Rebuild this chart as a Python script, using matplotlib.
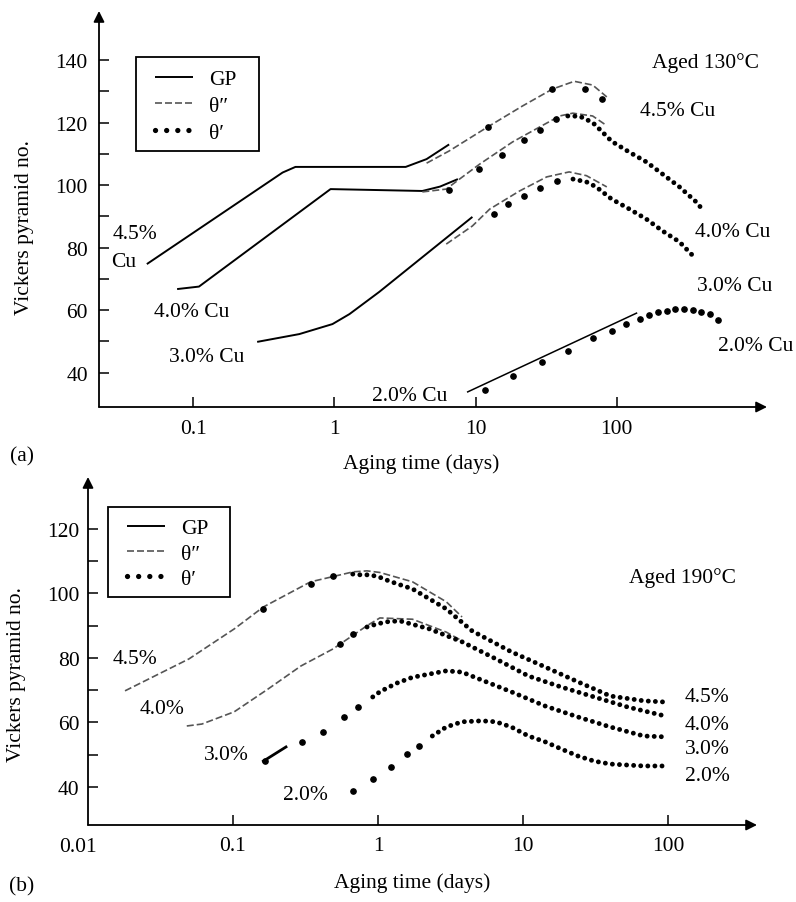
import matplotlib
matplotlib.use("Agg")
import matplotlib.pyplot as plt
from matplotlib.lines import Line2D
from matplotlib.patches import Rectangle

plt.rcParams['font.family'] = ['Liberation Serif', 'DejaVu Serif']

# ---------------- Panel (a): aged 130 C ----------------
a45_gp_t = [0.047, 0.43, 0.53, 3.2, 4.5, 6.5]
a45_gp_hv = [74.7, 104.0, 105.8, 105.8, 108.3, 113.0]
a45_th2_t = [4.5, 6.5, 12.2, 21.5, 35, 50, 67.5, 85]
a45_th2_hv = [107.0, 110.9, 118.6, 125.3, 130.7, 133.2, 132.0, 128.2]
a45_th1_t = [12.2, 35, 59.5, 78]
a45_th1_hv = [118.6, 130.7, 130.7, 127.5]

a40_gp_t = [0.077, 0.11, 0.94, 4.2, 5.6, 7.5]
a40_gp_hv = [66.7, 67.5, 98.7, 98.1, 99.5, 101.9]
a40_th2_t = [4.2, 6.2, 7.7, 10.7, 18.3, 28.5, 39.4, 48.8, 67.5, 85]
a40_th2_hv = [97.8, 98.7, 101.9, 106.7, 113.8, 118.6, 122.1, 123.0, 122.1, 119.0]
a40_th1_t = [6.5, 10.5, 15.5, 22, 28.5, 37]
a40_th1_hv = [98.4, 105.1, 109.6, 114.4, 117.6, 121.0]
a40_th1d_t = [45, 54.7, 67.5, 79, 92, 123, 162, 211, 278, 365, 418]
a40_th1d_hv = [122.1, 122.0, 120.0, 117.0, 114.0, 110.5, 107.4, 103.5, 99.4, 94.6, 91.4]

a30_gp_t = [0.284, 0.565, 0.97, 1.28, 2.08, 9.5]
a30_gp_hv = [49.8, 52.3, 55.5, 58.7, 65.8, 89.8]
a30_th2_t = [6.2, 9.5, 12.6, 20.5, 31.9, 46, 61, 85]
a30_th2_hv = [81.1, 86.9, 92.3, 98.1, 102.6, 104.2, 103.0, 99.4]
a30_th1_t = [13.4, 16.9, 22, 28.5, 37.5]
a30_th1_hv = [90.7, 94.0, 96.4, 99.2, 101.3]
a30_th1d_t = [49, 61, 71.5, 92, 123, 162, 211, 278, 365]
a30_th1d_hv = [101.9, 101.0, 99.4, 95.5, 92.3, 89.1, 85.3, 81.8, 76.3]

a20_gp_t = [8.8, 138]
a20_gp_hv = [33.8, 59.0]
a20_th1_t = [11.6, 18.3, 29.4, 45.5, 67.5, 92, 116, 146, 168, 195, 226, 258, 298, 344, 398, 455, 525]
a20_th1_hv = [34.4, 39.0, 43.3, 47.0, 51.0, 53.3, 55.5, 57.1, 58.4, 59.3, 59.7, 60.3, 60.3, 60.0, 59.4, 58.7, 56.8]

# ---------------- Panel (b): aged 190 C ----------------
b45_th2_t = [0.018, 0.0497, 0.102, 0.162, 0.343, 0.675, 0.84, 1.03, 1.73, 2.96, 3.8]
b45_th2_hv = [69.8, 79.7, 89.0, 95.8, 103.6, 106.7, 107.0, 106.5, 103.6, 97.4, 92.7]
b45_th1_t = [0.162, 0.343, 0.49]
b45_th1_hv = [95.2, 103.0, 105.4]
b45_th1d_t = [0.67, 0.78, 0.88, 1.03, 1.17, 1.35, 1.73, 2.96, 4.45, 8.3, 14.2, 23.9, 40, 68, 98.5]
b45_th1d_hv = [106.0, 105.7, 105.8, 105.0, 104.0, 103.0, 101.4, 95.2, 88.4, 81.9, 77.2, 72.6, 68.2, 66.7, 66.3]

b40_th2_t = [0.048, 0.061, 0.102, 0.175, 0.294, 0.49, 0.84, 1.03, 1.73, 2.96, 3.8]
b40_th2_hv = [58.9, 59.5, 63.3, 70.4, 77.5, 82.8, 90.0, 92.4, 92.0, 88.0, 85.3]
b40_th1_t = [0.55, 0.67]
b40_th1_hv = [84.3, 87.4]
b40_th1d_t = [0.84, 0.98, 1.15, 1.41, 2.26, 3.8, 6.5, 10.9, 18.3, 31, 52.5, 95.5]
b40_th1d_hv = [89.6, 90.5, 91.2, 91.5, 89.0, 85.0, 79.7, 74.4, 71.0, 67.9, 64.8, 62.0]

b30_gp_t = [0.162, 0.232]
b30_gp_hv = [48.0, 52.4]
b30_th1_t = [0.165, 0.30, 0.415, 0.58, 0.73]
b30_th1_hv = [48.0, 54.0, 57.0, 61.7, 64.8]
b30_th1d_t = [0.92, 1.03, 1.17, 1.35, 1.73, 2.96, 3.8, 4.96, 8.3, 14.2, 23.9, 40, 68, 98.5]
b30_th1d_hv = [67.9, 69.5, 70.8, 72.2, 74.0, 76.0, 75.6, 73.5, 69.5, 65.1, 61.7, 58.6, 55.8, 55.5]

b20_th1_t = [0.675, 0.92, 1.22, 1.58, 1.93]
b20_th1_hv = [38.8, 42.5, 46.2, 50.2, 52.7]
b20_th1d_t = [2.37, 2.96, 3.8, 5.2, 6.5, 8.3, 10.9, 14.2, 18.3, 23.9, 31, 40, 68, 98.5]
b20_th1d_hv = [55.8, 58.6, 60.2, 60.5, 60.2, 58.6, 55.8, 54.0, 51.8, 49.6, 48.0, 47.1, 46.5, 46.5]

x_ticks = [0.1, 1, 10, 100]
x_tick_labels = ['0.1', '1', '10', '100']
a_yticks = [40, 60, 80, 100, 120, 140]
a_yminor = [50, 70, 90, 110, 130]
b_yticks = [40, 60, 80, 100, 120]
b_yminor = [50, 70, 90, 110]
legend_labels = ['GP', 'θ″', 'θ′']

# ---------------- styling ----------------
W, H = 796, 903
FS = 15.5
GP = dict(color='black', lw=1.4, solid_capstyle='butt')
TH2 = dict(color='#555555', lw=1.2, dashes=(4.2, 1.8))
TH1 = dict(color='black', ls='none', marker='o', ms=3.8)
TH1D = dict(color='black', lw=3.5, dashes=(0.01, 1.45), dash_capstyle='round')
TH1L = dict(color='black', lw=3.8, dashes=(0.01, 2.1), dash_capstyle='round')


def fig_axes(fig, left, right, bottom, top):
    return fig.add_axes([left / W, 1 - bottom / H, (right - left) / W, (bottom - top) / H])


def style_axes(ax, yticks, yminor, ypad, xpad):
    ax.set_xscale('log')
    for s in ax.spines.values():
        s.set_visible(False)
    ax.annotate('', xy=(1, 0), xytext=(0, 0), xycoords='axes fraction',
                arrowprops=dict(arrowstyle='-|>', color='black', lw=1.3,
                                mutation_scale=16, shrinkA=0, shrinkB=0))
    ax.annotate('', xy=(0, 1), xytext=(0, 0), xycoords='axes fraction',
                arrowprops=dict(arrowstyle='-|>', color='black', lw=1.3,
                                mutation_scale=16, shrinkA=0, shrinkB=0))
    ax.set_yticks(yticks)
    ax.set_yticks(yminor, minor=True)
    ax.set_yticklabels([str(v) for v in yticks])
    ax.tick_params(axis='y', which='both', direction='in', length=7, width=1.1,
                   labelsize=FS, pad=ypad)
    ax.tick_params(axis='x', which='major', direction='in', length=7, width=1.1,
                   labelsize=FS, pad=xpad)
    ax.tick_params(axis='x', which='minor', length=0)
    ax.set_facecolor('none')


def legend(fig, ax, box, anchor, spacing):
    # box = (left, top, right, bottom) in pixels; anchor = upper-left of content
    handles = [Line2D([], [], **GP), Line2D([], [], **TH2), Line2D([], [], **TH1L)]
    ax.legend(handles, legend_labels, loc='upper left',
              bbox_to_anchor=(anchor[0] / W, 1 - anchor[1] / H),
              bbox_transform=fig.transFigure, borderaxespad=0, borderpad=0,
              fontsize=FS, handlelength=1.75, handletextpad=0.75,
              labelspacing=spacing, frameon=False)
    l, t, r, b = box
    fig.patches.append(Rectangle((l / W, 1 - b / H), (r - l) / W, (b - t) / H,
                                 transform=fig.transFigure, fill=False,
                                 edgecolor='black', lw=1.3))


fig = plt.figure(figsize=(W / 100, H / 100), dpi=100)

# ---------- (a) ----------
ax = fig_axes(fig, 99, 767, 408, 12)
ax.set_xlim(10 ** -1.6667, 10 ** 3.064)
ax.set_ylim(28.96, 155.7)
style_axes(ax, a_yticks, a_yminor, 8, 9)
ax.set_xticks(x_ticks)
ax.set_xticklabels(x_tick_labels)

ax.plot(a45_gp_t, a45_gp_hv, **GP)
ax.plot(a45_th2_t, a45_th2_hv, **TH2)
ax.plot(a45_th1_t, a45_th1_hv, **TH1)
ax.plot(a40_gp_t, a40_gp_hv, **GP)
ax.plot(a40_th2_t, a40_th2_hv, **TH2)
ax.plot(a40_th1_t, a40_th1_hv, **TH1)
ax.plot(a40_th1d_t, a40_th1d_hv, **TH1D)
ax.plot(a30_gp_t, a30_gp_hv, **GP)
ax.plot(a30_th2_t, a30_th2_hv, **TH2)
ax.plot(a30_th1_t, a30_th1_hv, **TH1)
ax.plot(a30_th1d_t, a30_th1d_hv, **TH1D)
ax.plot(a20_gp_t, a20_gp_hv, color='black', lw=1.1)
ax.plot(a20_th1_t, a20_th1_hv, **TH1)

tk = dict(fontsize=FS, ha='left', va='center')
ax.text(0.0267, 84.6, '4.5%', **tk)
ax.text(0.0263, 75.4, 'Cu', **tk)
ax.text(0.0529, 59.4, '4.0% Cu', **tk)
ax.text(0.0676, 45.0, '3.0% Cu', **tk)
ax.text(1.86, 32.8, '2.0% Cu', **tk)
ax.text(177, 139.4, 'Aged 130°C', **tk)
ax.text(146, 123.7, '4.5% Cu', **tk)
ax.text(358, 85.0, '4.0% Cu', **tk)
ax.text(369, 67.7, '3.0% Cu', **tk)
ax.text(522, 48.5, '2.0% Cu', **tk)
legend(fig, ax, (136, 58, 259, 152), (155, 70), 0.32)

# ---------- (b) ----------
bx = fig_axes(fig, 88, 757, 826, 478)
bx.set_xlim(0.01, 10 ** 2.614)
bx.set_ylim(28.2, 136.1)
style_axes(bx, b_yticks, b_yminor, 6, 8)
bx.set_xticks(x_ticks)
bx.set_xticklabels(x_tick_labels)
bx.text(0.0085, 24.6, '0.01', fontsize=FS, ha='center', va='top', clip_on=False)

bx.plot(b45_th2_t, b45_th2_hv, **TH2)
bx.plot(b45_th1_t, b45_th1_hv, **TH1)
bx.plot(b45_th1d_t, b45_th1d_hv, **TH1D)
bx.plot(b40_th2_t, b40_th2_hv, **TH2)
bx.plot(b40_th1_t, b40_th1_hv, **TH1)
bx.plot(b40_th1d_t, b40_th1d_hv, **TH1D)
bx.plot(b30_gp_t, b30_gp_hv, color='black', lw=2.0)
bx.plot(b30_th1_t, b30_th1_hv, **TH1)
bx.plot(b30_th1d_t, b30_th1d_hv, **TH1D)
bx.plot(b20_th1_t, b20_th1_hv, **TH1)
bx.plot(b20_th1d_t, b20_th1d_hv, **TH1D)

bx.text(0.0148, 79.7, '4.5%', **tk)
bx.text(0.0226, 64.2, '4.0%', **tk)
bx.text(0.063, 50.0, '3.0%', **tk)
bx.text(0.221, 37.8, '2.0%', **tk)
bx.text(54.2, 105.1, 'Aged 190°C', **tk)
bx.text(130.6, 67.9, '4.5%', **tk)
bx.text(130.6, 59.5, '4.0%', **tk)
bx.text(130.6, 51.8, '3.0%', **tk)
bx.text(130.6, 43.4, '2.0%', **tk)
legend(fig, bx, (108, 508, 230, 598), (127, 519), 0.25)

# ---------- axis titles & panel letters ----------
def ftext(x, y, s, **kw):
    fig.text(x / W, 1 - y / H, s, fontsize=FS, **kw)

ftext(421, 464, 'Aging time (days)', ha='center', va='center')
ftext(412, 883, 'Aging time (days)', ha='center', va='center')
ftext(25, 228, 'Vickers pyramid no.', ha='center', va='center', rotation=90)
ftext(17, 675, 'Vickers pyramid no.', ha='center', va='center', rotation=90)
ftext(22, 457, '(a)', ha='center', va='center')
ftext(22, 887, '(b)', ha='center', va='center')

fig.savefig('out.png', dpi=100)
